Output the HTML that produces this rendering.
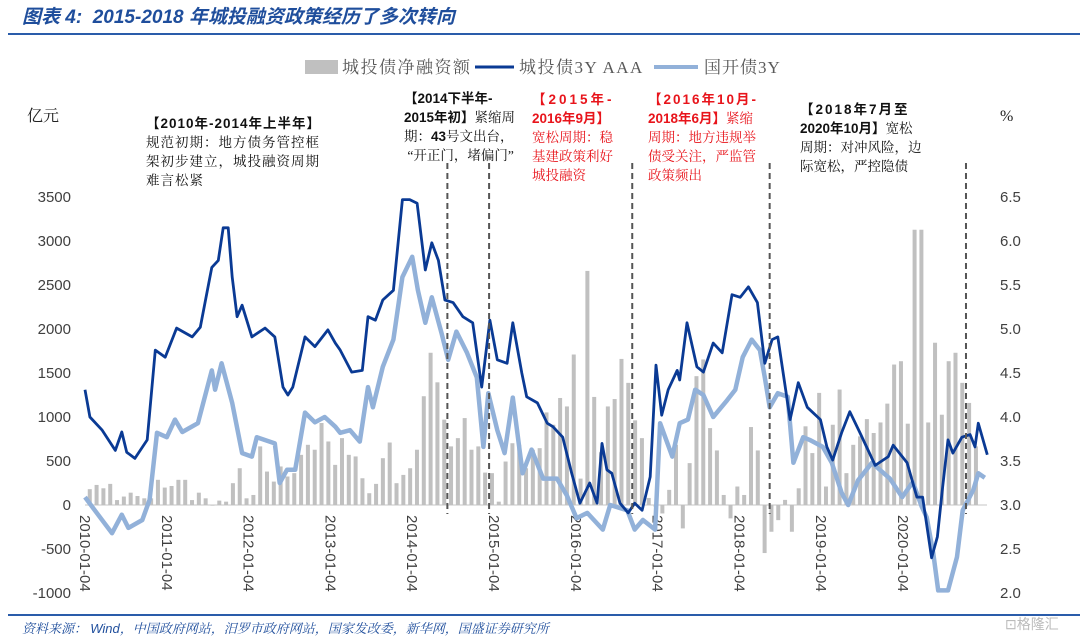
<!DOCTYPE html>
<html><head><meta charset="utf-8">
<style>
html,body{margin:0;padding:0;background:#fff;}
body{width:1080px;height:638px;position:relative;overflow:hidden;font-family:"Liberation Sans","Noto Sans CJK SC",sans-serif;}
.ann{position:absolute;font-family:"Liberation Serif","Noto Serif CJK SC",serif;font-size:13.5px;line-height:19px;color:#111;white-space:nowrap;}
.ann b{font-family:"Liberation Sans","Noto Sans CJK SC",sans-serif;}
.red{color:#e8141b;}
</style></head><body>
<div style="position:absolute;left:22px;top:2px;font-size:19px;font-weight:bold;font-style:italic;color:#1f4e9c;font-family:'Liberation Sans','Noto Sans CJK SC',sans-serif;">图表 4:&nbsp; 2015-2018 年城投融资政策经历了多次转向</div>
<div style="position:absolute;left:8px;top:33px;width:1072px;height:2px;background:#2a5caa;"></div>

<div class="ann" style="left:146px;top:114px;letter-spacing:1px;"><b>【2010年-2014年上半年】</b><br>规范初期：地方债务管控框<br>架初步建立，城投融资周期<br>难言松紧</div>
<div class="ann" style="left:404px;top:89px;"><b>【2014下半年-<br>2015年初】</b>紧缩周<br>期：<b>43</b>号文出台，<br>&nbsp;“开正门，堵偏门”</div>
<div class="ann red" style="left:532px;top:90px;"><b style="letter-spacing:3px">【2015年-</b><br><b>2016年9月】</b><br>宽松周期：稳<br>基建政策利好<br>城投融资</div>
<div class="ann red" style="left:648px;top:90px;"><b style="letter-spacing:2px">【2016年10月-</b><br><b>2018年6月】</b>紧缩<br>周期：地方违规举<br>债受关注，严监管<br>政策频出</div>
<div class="ann" style="left:800px;top:100px;"><b style="letter-spacing:2px">【2018年7月至</b><br><b>2020年10月】</b>宽松<br>周期：对冲风险，边<br>际宽松，严控隐债</div>

<svg id="chart" width="1080" height="638" style="position:absolute;left:0;top:0" xmlns="http://www.w3.org/2000/svg"></svg>

<div style="position:absolute;left:8px;top:614px;width:1072px;height:2px;background:#2a5caa;"></div>
<div style="position:absolute;left:22px;top:618px;font-size:13px;font-style:italic;color:#1f4e9c;font-family:'Liberation Serif','Noto Serif CJK SC',serif;">资料来源： <span style="font-family:'Liberation Sans',sans-serif">Wind</span>，中国政府网站，汨罗市政府网站，国家发改委，新华网，国盛证券研究所</div>
<div style="position:absolute;left:1005px;top:614px;font-size:14px;color:#bbb;">⊡格隆汇</div>

<script>
const barValues = [180,228,190,240,56,96,140,102,76,76,286,198,216,286,286,56,140,76,0,50,38,248,418,76,114,666,380,266,438,324,362,570,684,628,932,722,
456,760,570,552,304,134,240,532,710,248,342,418,628,1236,1730,1394,970,666,760,988,628,666,368,362,38,494,702,684,418,628,646,1052,912,1216,1120,1710,
300,2660,1228,600,1120,1204,1660,1388,962,760,80,-20,-96,172,684,-266,476,1464,1654,874,620,114,-152,210,114,886,620,-546,-304,-172,58,-304,190,894,
590,1274,210,912,1312,362,684,780,976,818,938,1152,1596,1634,924,3128,3128,938,1844,1026,1634,1730,1388,1160,666];
const aaaDates = [2010.0,2010.06,2010.21,2010.37,2010.45,2010.51,2010.61,2010.76,2010.86,2010.98,2011.12,2011.31,2011.41,2011.55,2011.63,2011.69,2011.75,2011.80,2011.86,2011.92,2012.04,2012.20,2012.32,2012.42,2012.48,2012.54,2012.69,2012.81,2012.97,2013.06,2013.12,2013.26,2013.39,2013.46,2013.55,2013.64,2013.77,2013.88,2013.97,2014.06,2014.16,2014.24,2014.32,2014.40,2014.50,2014.62,2014.74,2014.85,2014.95,2015.04,2015.16,2015.23,2015.34,2015.40,2015.53,2015.65,2015.72,2015.84,2015.95,2016.05,2016.17,2016.26,2016.32,2016.38,2016.44,2016.54,2016.64,2016.72,2016.81,2016.91,2016.98,2017.05,2017.13,2017.24,2017.27,2017.36,2017.48,2017.56,2017.68,2017.79,2017.91,2018.01,2018.11,2018.22,2018.31,2018.40,2018.47,2018.62,2018.72,2018.83,2018.99,2019.07,2019.14,2019.25,2019.35,2019.47,2019.66,2019.82,2019.88,2020.05,2020.17,2020.24,2020.35,2020.42,2020.48,2020.55,2020.61,2020.72,2020.82,2020.88,2020.92,2021.03];
const aaaValues = [4.31,4.0,3.85,3.62,3.83,3.6,3.53,3.74,4.76,4.68,5.01,4.91,5.02,5.70,5.78,6.15,6.15,5.59,5.14,5.27,4.91,5.01,4.91,4.34,4.25,4.34,4.91,4.80,4.99,4.84,4.76,4.51,4.53,5.14,5.10,5.33,5.44,6.47,6.47,6.43,5.67,5.98,5.78,5.33,5.30,5.14,5.07,4.34,5.10,4.65,4.61,5.07,4.50,4.23,4.16,3.93,3.89,3.77,3.36,3.02,3.25,3.02,3.70,3.40,3.36,3.02,2.91,3.02,2.94,3.32,4.59,4.02,4.31,4.53,4.42,5.07,4.57,4.51,4.84,4.73,5.39,5.36,5.48,5.30,4.61,4.88,4.91,3.97,4.39,4.11,3.97,3.66,3.51,3.82,4.06,3.83,3.45,3.55,3.68,3.48,3.09,3.09,2.40,2.64,3.17,3.74,3.59,3.77,3.80,3.66,3.93,3.57];
const cdbDates = [2010.0,2010.12,2010.33,2010.45,2010.53,2010.70,2010.79,2010.88,2011.0,2011.10,2011.19,2011.38,2011.55,2011.59,2011.67,2011.80,2011.92,2012.04,2012.10,2012.32,2012.38,2012.47,2012.57,2012.69,2012.81,2012.93,2013.06,2013.12,2013.24,2013.36,2013.46,2013.52,2013.64,2013.77,2013.88,2014.0,2014.07,2014.16,2014.24,2014.36,2014.44,2014.54,2014.67,2014.79,2014.87,2014.93,2015.04,2015.13,2015.23,2015.35,2015.46,2015.60,2015.77,2015.89,2016.01,2016.14,2016.33,2016.42,2016.63,2016.72,2016.82,2016.97,2017.03,2017.18,2017.27,2017.37,2017.46,2017.56,2017.68,2017.85,2017.95,2018.04,2018.15,2018.25,2018.31,2018.37,2018.47,2018.59,2018.66,2018.78,2018.86,2019.02,2019.13,2019.25,2019.33,2019.45,2019.62,2019.84,2019.99,2020.12,2020.23,2020.29,2020.37,2020.43,2020.55,2020.66,2020.73,2020.86,2020.92,2021.0];
const cdbValues = [3.09,2.94,2.68,2.89,2.74,2.83,3.06,3.82,3.77,3.97,3.83,3.93,4.53,4.31,4.61,4.16,3.59,3.55,3.77,3.70,3.25,3.40,3.40,4.05,3.94,4.0,3.89,3.82,3.85,3.72,4.34,4.11,4.57,4.88,5.59,5.82,5.44,5.07,5.36,4.95,4.65,4.97,4.73,4.45,3.66,4.27,3.85,3.59,4.22,3.36,3.63,3.30,3.30,3.11,2.85,2.91,2.72,3.0,2.94,2.72,2.83,2.72,3.93,3.55,3.93,3.97,4.31,4.25,4.0,4.19,4.31,4.68,4.88,4.76,4.45,4.11,4.27,4.23,3.48,3.77,3.74,3.66,3.48,3.14,3.0,3.28,3.48,3.30,3.09,3.26,2.98,2.86,2.45,2.03,2.03,2.41,2.94,3.17,3.36,3.31,3.43,3.02];
const leftTicks = [3500,3000,2500,2000,1500,1000,500,0,-500,-1000];
const rightTicks = [6.5,6.0,5.5,5.0,4.5,4.0,3.5,3.0,2.5,2.0];
const xTickYears = [2010,2011,2012,2013,2014,2015,2016,2017,2018,2019,2020];
const xTickLabels = ["2010-01-04","2011-01-04","2012-01-04","2013-01-04","2014-01-04","2015-01-04","2016-01-04","2017-01-04","2018-01-04","2019-01-04","2020-01-04"];
const policyDates = [2014.43,2014.94,2016.69,2018.37,2020.77];

const NS="http://www.w3.org/2000/svg";
const svg=document.getElementById('chart');
const xOf=t=>85+(t-2010)*81.8;
const yL=v=>505-v*0.088;
const yR=v=>197+(6.5-v)*88;
function mk(tag,attrs,parent){const e=document.createElementNS(NS,tag);for(const k in attrs)e.setAttribute(k,attrs[k]);(parent||svg).appendChild(e);return e;}

const zl=mk('line',{x1:85,x2:987,y1:yL(0),y2:yL(0),stroke:'#d9d9d9','stroke-width':1.5});



leftTicks.forEach(v=>{const t=mk('text',{x:71,y:yL(v)+5,'text-anchor':'end','font-size':15,fill:'#404040','font-family':'Liberation Sans, sans-serif'});t.textContent=v;

});
rightTicks.forEach(v=>{const t=mk('text',{x:1000,y:yR(v)+5,'font-size':15,fill:'#404040','font-family':'Liberation Sans, sans-serif'});t.textContent=v.toFixed(1);

});
xTickYears.forEach((yr,i)=>{const x=xOf(yr)-5;const t=mk('text',{x:x,y:515,transform:`rotate(90 ${x} 515)`,'font-size':15,fill:'#404040','font-family':'Liberation Sans, sans-serif'});t.textContent=xTickLabels[i];

});
const u1=mk('text',{x:27,y:121,'font-size':16,fill:'#222','font-family':'Liberation Serif, Noto Serif CJK SC, serif'});u1.textContent='亿元';


const u2=mk('text',{x:1000,y:121,'font-size':16,fill:'#222','font-family':'Liberation Serif, Noto Serif CJK SC, serif'});u2.textContent='%';



barValues.forEach((v,i)=>{const x=xOf(2010+(i+0.7)/12);const y0=yL(0),y1=yL(v);
const b=mk('rect',{x:x-2,y:Math.min(y0,y1),width:4,height:Math.max(0.5,Math.abs(y1-y0)),fill:'#c0c0c0'});

});

function line(dates,vals,color,w,name){const d=dates.map((t,i)=>(i?'L':'M')+xOf(t).toFixed(1)+' '+yR(vals[i]).toFixed(1)).join(' ');
const p=mk('path',{d:d,fill:'none',stroke:color,'stroke-width':w,'stroke-linejoin':'round'});

}
line(cdbDates,cdbValues,'#92b1d9',4.5,'cdb-3y-line');
line(aaaDates,aaaValues,'#0a3a94',2.8,'aaa-3y-line');

policyDates.forEach(t=>{const x=xOf(t);const l=mk('line',{x1:x,x2:x,y1:163,y2:514,stroke:'#555','stroke-width':2,'stroke-dasharray':'6 4'});

});

const lg=mk('g',{});


mk('rect',{x:305,y:60,width:33,height:14,fill:'#c0c0c0'},lg);
const t1=mk('text',{x:342,y:73,'font-size':17,fill:'#595959','font-family':'Liberation Serif, Noto Serif CJK SC, serif','letter-spacing':1.5},lg);t1.textContent='城投债净融资额';


mk('line',{x1:475,x2:514,y1:67,y2:67,stroke:'#0a3a94','stroke-width':3},lg);
const t2=mk('text',{x:519,y:73,'font-size':17,fill:'#595959','font-family':'Liberation Serif, Noto Serif CJK SC, serif','letter-spacing':1.5},lg);t2.textContent='城投债3Y AAA';


mk('line',{x1:654,x2:698,y1:67,y2:67,stroke:'#92b1d9','stroke-width':4},lg);
const t3=mk('text',{x:704,y:73,'font-size':17,fill:'#595959','font-family':'Liberation Serif, Noto Serif CJK SC, serif','letter-spacing':1},lg);t3.textContent='国开债3Y';


</script>
</body></html>
